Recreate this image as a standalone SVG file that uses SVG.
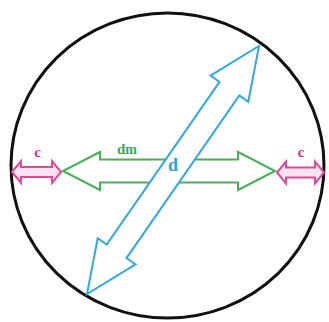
<svg xmlns="http://www.w3.org/2000/svg" width="329" height="322" viewBox="0 0 329 322">
<style>
.lbl{font-family:"Liberation Serif",serif;font-weight:bold}
.pink{fill:#fbe4ef;stroke:#de4a93;stroke-width:2;stroke-linejoin:miter}
.green{fill:#ffffff;stroke:#4aae5a;stroke-width:2}
.blue{fill:#ffffff;stroke:#35a9dc;stroke-width:2}
</style>
<rect width="329" height="322" fill="#ffffff"/>
<g id="circle">
<ellipse cx="167.5" cy="165.5" rx="156.5" ry="152.5" fill="none" stroke="#111111" stroke-width="3"/>
</g>
<g id="connectors">
<polygon id="c-left" class="pink" points="12,172 21,161 21,167 52,167 52,161 61,172 52,183 52,177 21,177 21,183"/>
<polygon id="c-right" class="pink" points="277,172.5 286,161.5 286,167.5 315,167.5 315,161.5 324,172.5 315,183.5 315,177.5 286,177.5 286,183.5"/>
<polygon id="dm-arrow" class="green" points="63,171 100,152 100,159.5 238,159.5 238,152 275,171 238,190 238,182.5 100,182.5 100,190"/>
<polygon id="d-arrow" class="blue" points="259,46 248.3,101.8 239.3,95.5 126.5,258.1 135.5,264.4 87,294 97.7,238.2 106.7,244.5 219.5,81.9 210.5,75.6"/>
</g>
<g id="labels">
<text class="lbl" x="37.5" y="157" font-size="15" fill="#d8307f" text-anchor="middle">c</text>
<text class="lbl" x="301" y="157" font-size="15" fill="#d8307f" text-anchor="middle">c</text>
<text class="lbl" x="117" y="154" font-size="15" fill="#3fa84f">d<tspan font-size="14">m</tspan></text>
<text class="lbl" x="173" y="171" font-size="18" fill="#2aa4dc" text-anchor="middle">d</text>
</g>
</svg>
